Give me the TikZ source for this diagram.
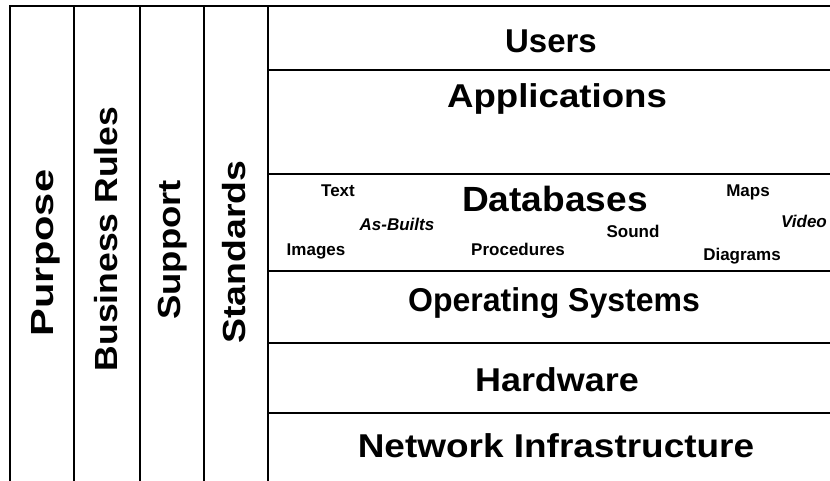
\documentclass[tikz,border=0pt]{standalone}
\usepackage{fontspec}
\setmainfont{Liberation Sans}
\usepackage{graphicx}

\begin{document}
\begin{tikzpicture}[x=1pt,y=-1pt,
  rule/.style={line width=1.8pt},
  layer/.style={anchor=base,inner sep=0pt,font=\fontsize{33}{33}\selectfont\bfseries},
  side/.style={anchor=base,rotate=90,inner sep=0pt,font=\fontsize{32}{32}\selectfont\bfseries},
  item/.style={anchor=base,inner sep=0pt,font=\fontsize{17}{17}\selectfont\bfseries}]
\useasboundingbox (0,0) rectangle (830,481);
\fill[white] (0,0) rectangle (830,481);
\draw[rule] (10,481) -- (10,6) -- (830,6);
\foreach \x in {74,140,204,268} \draw[rule] (\x,6) -- (\x,481);
\foreach \y in {70,174,271,343,413} \draw[rule] (268,\y) -- (830,\y);
\node[side] (PURPOSE) at (53,253) {\scalebox{1.3}[1]{Purpose}};
\node[side] (RULES) at (117,239) {\scalebox{1.11}[1]{Business Rules}};
\node[side] (SUPPORT) at (180,250) {\scalebox{1.14}[1]{Support}};
\node[side] (STANDARDS) at (245,252) {\scalebox{1.17}[1]{Standards}};
\node[layer] (USERS) at (551,53) {Users};
\node[layer] (APPS) at (557,108) {\scalebox{1.11}[1]{Applications}};
\node[layer,font=\fontsize{35}{35}\selectfont\bfseries] (DB) at (555,212) {\scalebox{1.06}[1]{Databases}};
\node[layer] (OS) at (554,311) {\scalebox{0.97}[1]{Operating Systems}};
\node[layer] (HW) at (557,391) {\scalebox{1.09}[1]{Hardware}};
\node[layer] (NET) at (556,457) {\scalebox{1.12}[1]{Network Infrastructure}};
\node[item] (TEXT) at (338,197) {Text};
\node[item,font=\fontsize{17}{17}\selectfont\bfseries\itshape] (ASBUILT) at (397,230) {As-Builts};
\node[item] (IMAGES) at (316,255) {Images};
\node[item] (PROC) at (518,255) {Procedures};
\node[item] (SOUND) at (633,237) {Sound};
\node[item] (MAPS) at (748,197) {Maps};
\node[item,font=\fontsize{17}{17}\selectfont\bfseries\itshape] (VIDEO) at (804,228) {Video};
\node[item] (DIAG) at (742,260) {Diagrams};
\end{tikzpicture}
\end{document}
